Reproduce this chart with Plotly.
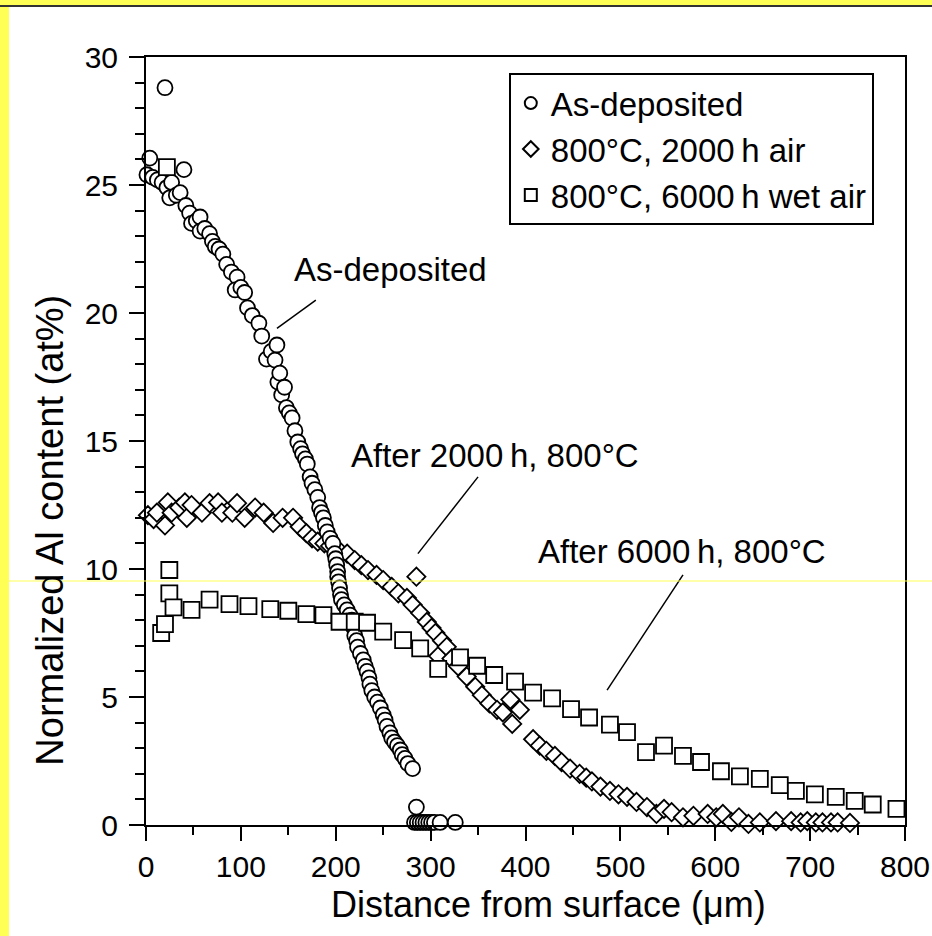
import plotly.graph_objects as go

# ---------------- data ----------------
asdep_x = [20, 4, 1, 7, 12, 17, 22, 27, 25, 32, 36, 40, 42, 46, 48, 53, 57, 57, 62, 67, 70, 73, 77, 81, 85, 90, 96, 94,
           100, 104, 107, 112, 119, 122, 127, 132, 136, 138, 139, 141, 143, 146, 148, 151, 154, 157, 160, 163, 165, 168,
           170, 173, 175, 178, 181, 183, 185, 187, 189, 191, 194, 197, 199, 200, 201, 202, 202, 203, 204, 205, 206, 209,
           212, 215, 217, 219, 220, 222, 223, 226, 229, 231, 233, 235, 236, 238, 241, 244, 247, 250, 252, 254, 257, 259,
           262, 265, 268, 270, 273, 276, 281, 285, 283, 286, 289, 292, 295, 298, 301, 304, 310, 326]
asdep_y = [28.8, 26.05, 25.4, 25.3, 25.2, 25.1, 24.9, 25.1, 24.5, 24.6, 24.7, 25.6, 24.2, 23.9, 23.5, 23.6, 23.75, 23.2,
           23.3, 23.1, 22.8, 22.6, 22.5, 22.3, 21.9, 21.6, 21.4, 20.9, 21.0, 20.8, 20.2, 19.9, 19.6, 19.1, 18.2, 18.5,
           18.16, 18.75, 17.3, 17.65, 16.8, 17.1, 16.3, 16.1, 15.9, 15.4, 14.96, 14.7, 14.5, 14.3, 14.1, 13.6, 13.35,
           13.1, 12.8, 12.4, 12.2, 12.0, 11.7, 11.45, 11.2, 11.0, 10.6, 10.4, 10.16, 9.9, 9.7, 9.5, 9.26, 9.0, 8.8, 8.6,
           8.4, 8.2, 8.0, 7.7, 7.4, 7.2, 6.95, 6.7, 6.45, 6.2, 6.0, 5.75, 5.5, 5.25, 5.0, 4.8, 4.57, 4.3, 4.1, 3.85, 3.6,
           3.4, 3.24, 3.1, 2.93, 2.75, 2.6, 2.4, 2.2, 0.7, 0.1, 0.1, 0.1, 0.1, 0.1, 0.1, 0.1, 0.1, 0.1, 0.1]

air2000_x = [2, 8, 11.5, 20, 23, 27, 35, 41, 43, 48, 59, 67, 76, 80, 91, 96, 104, 115, 124, 134, 144, 155, 162, 169,
             175, 181, 188, 194, 204, 212, 220, 227, 234, 243, 250, 259, 266, 275, 281, 285, 289, 296, 301, 305, 312,
             308, 317, 322, 329, 338, 347, 354, 362, 370, 376, 384, 394, 386, 408, 415, 422, 431, 438, 447, 457, 464,
             470, 479, 489, 498, 507, 517, 528, 538, 546, 554, 566, 577, 592, 601, 608, 617, 625, 635, 647, 655, 664,
             671, 680, 690, 697, 706, 713, 722, 729, 742]
air2000_y = [12.1, 11.95, 12.2, 11.7, 12.6, 12.2, 12.4, 12.6, 12.0, 12.5, 12.2, 12.57, 12.6, 12.2, 12.2, 12.57, 12.0,
             12.4, 12.2, 11.8, 12.0, 12.0, 11.65, 11.4, 11.2, 11.07, 11.0, 10.9, 10.7, 10.6, 10.35, 10.15, 9.96, 9.77,
             9.57, 9.3, 9.05, 8.87, 8.6, 9.7, 8.28, 7.93, 7.7, 7.5, 7.2, 6.6, 6.96, 6.5, 6.2, 5.8, 5.4, 5.07, 4.75, 4.5,
             4.4, 4.9, 4.5, 3.95, 3.35, 3.1, 2.9, 2.7, 2.46, 2.2, 2.0, 1.85, 1.7, 1.5, 1.33, 1.2, 1.1, 0.9, 0.7, 0.43,
             0.63, 0.5, 0.3, 0.36, 0.43, 0.3, 0.43, 0.12, 0.3, 0.04, 0.1, -0.1, 0.15, -0.03, 0.15, 0.1, 0.15, 0.1, 0.1,
             0.1, 0.1, 0.08]

wet6000_x = [-2, 16, 20, 24.6, 24.6, 22, 29, 48, 67, 88, 108, 131, 150, 169, 187, 204, 220, 233, 250, 271, 289, 308,
             331, 349, 367, 389, 408, 428, 448, 467, 489, 507, 527, 546, 566, 585, 606, 626, 647, 668, 685, 705, 727,
             747, 766, 791]
wet6000_y = [7.85, 7.5, 7.85, 9.96, 9.05, 25.7, 8.5, 8.4, 8.8, 8.63, 8.55, 8.43, 8.37, 8.24, 8.2, 7.94, 7.94, 7.9,
             7.55, 7.22, 6.9, 6.1, 6.55, 6.22, 5.86, 5.6, 5.17, 4.95, 4.53, 4.2, 3.92, 3.63, 2.85, 3.1, 2.7, 2.46, 2.1,
             1.9, 1.8, 1.56, 1.33, 1.2, 1.1, 0.94, 0.8, 0.63]

x_ticks = [0, 100, 200, 300, 400, 500, 600, 700, 800]
y_ticks = [0, 5, 10, 15, 20, 25, 30]

FONT = "Liberation Sans, Arial, Helvetica, sans-serif"

fig = go.Figure()
fig.add_trace(go.Scatter(x=air2000_x, y=air2000_y, mode="markers", name="800°C, 2000\u2009h air",
                         marker=dict(symbol="diamond", size=14, color="white", line=dict(color="black", width=1.8)),
                         cliponaxis=False, legendrank=2))
fig.add_trace(go.Scatter(x=asdep_x, y=asdep_y, mode="markers", name="As-deposited",
                         marker=dict(symbol="circle", size=15, color="white", line=dict(color="black", width=1.8)),
                         cliponaxis=False, legendrank=1))
fig.add_trace(go.Scatter(x=wet6000_x, y=wet6000_y, mode="markers", name="800°C, 6000\u2009h wet air",
                         marker=dict(symbol="square", size=16, color="white", line=dict(color="black", width=1.8)),
                         cliponaxis=False, legendrank=3))

axis_common = dict(showgrid=False, zeroline=False, showline=True, linecolor="black", linewidth=2, mirror=True,
                   ticks="outside", tickcolor="black", tickwidth=2, automargin=False,
                   tickfont=dict(family=FONT, size=30, color="black"))
fig.update_xaxes(range=[0, 800], tickvals=x_ticks, ticklen=14,
                 minor=dict(dtick=50, tick0=0, ticks="outside", ticklen=8, tickwidth=1.5, tickcolor="black"),
                 **axis_common)
fig.update_yaxes(range=[0, 30], tickvals=y_ticks, ticklen=15, ticklabelstandoff=5,
                 minor=dict(dtick=1, tick0=0, ticks="outside", ticklen=9, tickwidth=1.5, tickcolor="black"),
                 **axis_common)

annotations = [
    dict(text="Distance from surface (μm)", x=0.53, y=-0.104, xref="paper", yref="paper", showarrow=False,
         font=dict(family=FONT, size=36), xanchor="center", yanchor="middle"),
    dict(text="Normalized Al content (at%)", x=-0.127, y=0.384, xref="paper", yref="paper", showarrow=False,
         textangle=-90, font=dict(family=FONT, size=38), xanchor="center", yanchor="middle"),
    dict(text="As-deposited", x=258, y=21.7, showarrow=False, font=dict(family=FONT, size=33)),
    dict(text="After 2000\u2009h, 800°C", x=368, y=14.45, showarrow=False, font=dict(family=FONT, size=33)),
    dict(text="After 6000\u2009h, 800°C", x=565, y=10.7, showarrow=False, font=dict(family=FONT, size=33)),
]

shapes = [
    # leader lines
    dict(type="line", x0=138, y0=19.4, x1=179, y1=20.5, line=dict(color="black", width=1.5)),
    dict(type="line", x0=286.6, y0=10.6, x1=350, y1=13.6, line=dict(color="black", width=1.5)),
    dict(type="line", x0=486, y0=5.27, x1=566, y1=9.77, line=dict(color="black", width=1.5)),
    # yellow page border of the scan
    dict(type="rect", xref="paper", yref="paper", x0=-0.1924, x1=1.0356, y0=1.0677, y1=1.0745,
         fillcolor="#ffff55", line=dict(width=0), layer="below"),
    dict(type="rect", xref="paper", yref="paper", x0=-0.1924, x1=-0.1805, y0=-0.145, y1=1.0745,
         fillcolor="#ffff55", line=dict(width=0), layer="below"),
    dict(type="line", xref="paper", yref="paper", x0=-0.1924, x1=1.0356, y0=1.0664, y1=1.0664,
         line=dict(color="#333333", width=2)),
    dict(type="line", xref="paper", yref="paper", x0=-0.1924, x1=1.0356, y0=0.3177, y1=0.3177,
         line=dict(color="#ffff55", width=1)),
]

fig.update_layout(
    width=932, height=936,
    margin=dict(l=146, r=27, t=57, b=111, autoexpand=False),
    paper_bgcolor="white", plot_bgcolor="white",
    font=dict(family=FONT, color="black"),
    showlegend=True,
    legend=dict(x=0.478, y=0.979, xanchor="left", yanchor="top", bgcolor="white",
                bordercolor="black", borderwidth=2, font=dict(family=FONT, size=33),
                itemsizing="constant", traceorder="normal"),
    annotations=annotations, shapes=shapes,
)

fig.write_html("out.html")
